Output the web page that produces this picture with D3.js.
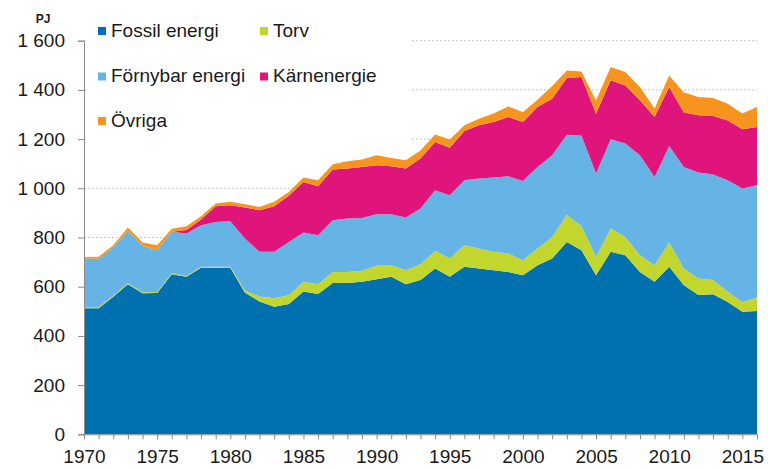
<!DOCTYPE html>
<html lang="sv">
  <head>
    <meta charset="UTF-8" />
    <title>Energiförbrukning</title>
    <script src="https://d3js.org/d3.v7.min.js"></script>
    <style>
      body {
        margin: 0;
        background-color: white;
      }
      svg text {
        font-family: "Liberation Sans", Arial, sans-serif;
        fill: #1a1a1a;
      }
      .axis path,
      .axis line {
        stroke: #8a8a8a;
      }
      .grid line {
        stroke: #c4c4c4;
        stroke-dasharray: 2, 2;
      }
    </style>
  </head>
  <body>
    <svg id="chart" width="768" height="468"></svg>
    <script>
      // Data (PJ)
      const years = d3.range(1970, 2017);
      const fossil = [512, 512, 559, 610, 573, 574, 651, 640, 677, 677, 677, 575, 540, 518, 530, 580, 570, 615, 615, 620, 630, 640, 610, 627, 674, 640, 681, 674, 667, 660, 647, 687, 715, 782, 748, 647, 742, 728, 660, 620, 681, 606, 566, 569, 538, 498, 501];
      const torv = [5, 5, 4, 4, 4, 4, 4, 4, 4, 4, 4, 10, 20, 35, 35, 40, 40, 45, 45, 45, 55, 47, 57, 64, 72, 75, 88, 81, 75, 75, 61, 68, 87, 109, 99, 74, 95, 74, 68, 67, 99, 68, 67, 58, 41, 40, 54];
      const fornybar = [198, 197, 196, 213, 188, 170, 168, 172, 169, 182, 185, 211, 182, 189, 217, 200, 199, 210, 217, 214, 210, 208, 214, 227, 246, 257, 264, 285, 302, 314, 322, 332, 332, 327, 368, 339, 362, 380, 406, 359, 392, 413, 431, 429, 454, 461, 457];
      const karn = [0, 0, 0, 0, 0, 0, 0, 14, 23, 64, 65, 126, 169, 185, 188, 206, 199, 206, 203, 208, 199, 195, 199, 203, 196, 193, 200, 216, 226, 241, 240, 243, 230, 230, 237, 243, 240, 236, 224, 244, 240, 221, 233, 238, 243, 241, 237];
      const ovriga = [6, 8, 10, 14, 15, 21, 13, 16, 13, 11, 14, 13, 13, 18, 15, 18, 25, 22, 30, 30, 40, 33, 34, 33, 31, 33, 23, 27, 34, 43, 40, 30, 52, 31, 23, 54, 54, 55, 54, 34, 47, 81, 74, 73, 68, 64, 81];

      const seriesNames = ["Fossil energi", "Torv", "Förnybar energi", "Kärnenergie", "Övriga"];
      const seriesColors = ["#0071ae", "#c3d62d", "#66b3e6", "#df157c", "#f7941d"];
      const yTicks = [0, 200, 400, 600, 800, 1000, 1200, 1400, 1600];
      const xLabelYears = [1970, 1975, 1980, 1985, 1990, 1995, 2000, 2005, 2010, 2015];

      const rows = years.map((yr, i) => ({
        year: yr,
        "Fossil energi": fossil[i],
        Torv: torv[i],
        "Förnybar energi": fornybar[i],
        Kärnenergie: karn[i],
        Övriga: ovriga[i],
      }));

      const svg = d3.select("#chart");

      const x = d3.scaleLinear().domain([1970, 2016]).range([84, 757]);
      const y = d3.scaleLinear().domain([0, 1600]).range([434.3, 40.7]);

      // gridlines behind everything
      svg
        .append("g")
        .attr("class", "grid")
        .selectAll("line")
        .data(yTicks.filter((d) => d > 0))
        .enter()
        .append("line")
        .attr("x1", x(1970))
        .attr("x2", x(2016))
        .attr("y1", (d) => y(d))
        .attr("y2", (d) => y(d));

      // legend background hides the gridlines underneath
      svg.append("rect").attr("x", 86).attr("y", 12).attr("width", 324).attr("height", 134).attr("fill", "white");

      const stack = d3.stack().keys(seriesNames);
      const layers = stack(rows);

      const area = d3
        .area()
        .x((d) => x(d.data.year))
        .y0((d) => y(d[0]))
        .y1((d) => y(d[1]));

      svg
        .append("g")
        .selectAll("path")
        .data(layers)
        .enter()
        .append("path")
        .attr("fill", (d, i) => seriesColors[i])
        .attr("d", area);

      // y axis
      const fmt = (d) => (d >= 1000 ? d3.format(",")(d).replace(",", " ") : String(d));
      const yAxis = svg
        .append("g")
        .attr("class", "axis")
        .attr("transform", "translate(84,0)")
        .call(d3.axisLeft(y).tickValues(yTicks).tickSize(6).tickPadding(13).tickFormat(fmt));
      yAxis.selectAll("text").attr("font-size", 19);

      // x axis: a tick for every year, labels every 5 years
      const xAxis = svg
        .append("g")
        .attr("class", "axis")
        .attr("transform", "translate(0,434.3)")
        .call(
          d3
            .axisBottom(x)
            .tickValues(years)
            .tickSize(5)
            .tickSizeOuter(0)
            .tickFormat((d) => (xLabelYears.includes(d) ? String(d) : ""))
        );
      xAxis.selectAll("text").attr("font-size", 19).attr("y", 15);
      svg.selectAll(".axis .domain").attr("stroke", "#8a8a8a");

      // unit label
      svg
        .append("text")
        .attr("x", 43)
        .attr("y", 23)
        .attr("text-anchor", "middle")
        .attr("font-size", 12)
        .attr("font-weight", "bold")
        .text("PJ");

      // legend
      const legendPos = [
        [98, 27],
        [260, 27],
        [98, 72.5],
        [260, 72.5],
        [98, 117],
      ];
      const legend = svg
        .append("g")
        .selectAll("g")
        .data(seriesNames)
        .enter()
        .append("g")
        .attr("transform", (d, i) => `translate(${legendPos[i][0]},${legendPos[i][1]})`);
      legend
        .append("rect")
        .attr("width", 8)
        .attr("height", 8)
        .attr("fill", (d, i) => seriesColors[i]);
      legend
        .append("text")
        .attr("x", 13)
        .attr("y", 9.5)
        .attr("font-size", 19)
        .text((d) => d);
    </script>
  </body>
</html>
